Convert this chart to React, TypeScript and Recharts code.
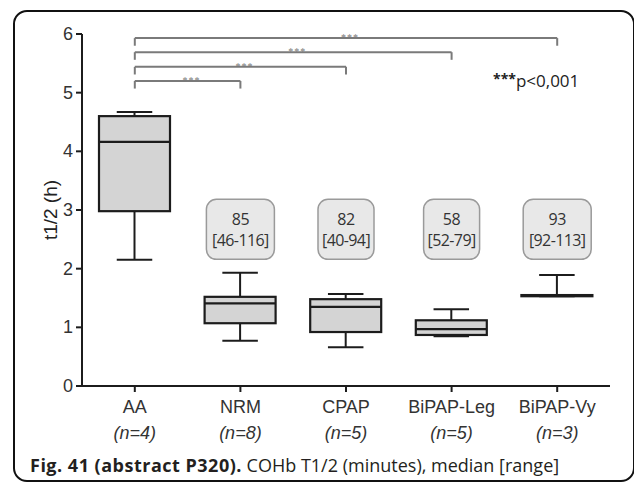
import {
  ComposedChart,
  Bar,
  XAxis,
  YAxis,
  ReferenceLine,
  ReferenceDot,
} from "recharts";

// groups and sample sizes
const groups = ["AA", "NRM", "CPAP", "BiPAP-Leg", "BiPAP-Vy"];
const counts = [4, 8, 5, 5, 3];

// box plot values, t1/2 in hours
const minVals = [2.15, 0.77, 0.66, 0.85, 1.53];
const q1Vals = [2.98, 1.07, 0.92, 0.87, 1.53];
const medianVals = [4.16, 1.41, 1.35, 0.97, 1.55];
const q3Vals = [4.6, 1.52, 1.48, 1.12, 1.55];
const maxVals = [4.67, 1.93, 1.57, 1.31, 1.89];

// annotation boxes: median [range] in minutes
const medianMinutes = [null, 85, 82, 58, 93];
const rangeMinutes = ["", "46-116", "40-94", "52-79", "92-113"];

// significance brackets from AA
const bracketTo = ["NRM", "CPAP", "BiPAP-Leg", "BiPAP-Vy"];
const bracketLevel = [5.2, 5.44, 5.69, 5.93];
const bracketDrop = 0.13;

const yTicks = [0, 1, 2, 3, 4, 5, 6];

const data = groups.map((name, i) => ({
  name,
  n: counts[i],
  min: minVals[i],
  q1: q1Vals[i],
  median: medianVals[i],
  q3: q3Vals[i],
  max: maxVals[i],
  range: [minVals[i], maxVals[i]],
}));

const ink = "#1c1c1c";

function BoxShape(props: any) {
  const { x, y, width, height, payload } = props;
  const { min, q1, median, q3, max } = payload;
  const py = (v: number) => y + (height * (max - v)) / (max - min);
  const cx = x + width / 2;
  const cap = width * 0.5;
  return (
    <g>
      <line x1={cx} x2={cx} y1={py(max)} y2={py(q3)} stroke={ink} strokeWidth={2} />
      <line x1={cx} x2={cx} y1={py(q1)} y2={py(min)} stroke={ink} strokeWidth={2} />
      <line x1={cx - cap / 2} x2={cx + cap / 2} y1={py(max)} y2={py(max)} stroke={ink} strokeWidth={2} />
      <line x1={cx - cap / 2} x2={cx + cap / 2} y1={py(min)} y2={py(min)} stroke={ink} strokeWidth={2} />
      <rect x={x} y={py(q3)} width={width} height={py(q1) - py(q3)} fill="#d4d4d4" stroke={ink} strokeWidth={2.2} />
      <line x1={x} x2={x + width} y1={py(median)} y2={py(median)} stroke={ink} strokeWidth={2.2} />
    </g>
  );
}

function XTick(props: any) {
  const { x, y, payload, index } = props;
  return (
    <g>
      <text x={x} y={y + 19} textAnchor="middle" fontSize={18} fill="#333" fontFamily="Liberation Sans, Arial">
        {payload.value}
      </text>
      <text x={x} y={y + 45} textAnchor="middle" fontSize={18} fontStyle="italic" fill="#333" fontFamily="Liberation Sans, Arial">
        (n={counts[index]})
      </text>
    </g>
  );
}

function YTick(props: any) {
  const { x, y, payload } = props;
  return (
    <text x={x} y={y} dy={6} textAnchor="end" fontSize={18} fill="#333" fontFamily="Liberation Sans, Arial">
      {payload.value}
    </text>
  );
}

function NoteBox(props: any, i: number) {
  const { cx, cy } = props;
  const w = rangeMinutes[i].length * 12 - 4;
  return (
    <g>
      <rect x={cx - w / 2} y={cy - 30} width={w} height={60} rx={10} fill="#e8e8e8" stroke="#9a9a9a" strokeWidth={1.5} />
      <text x={cx} y={cy - 4} textAnchor="middle" fontSize={16} letterSpacing={-0.4} fill="#333" fontFamily="Open Sans">
        {medianMinutes[i]}
      </text>
      <text x={cx} y={cy + 17} textAnchor="middle" fontSize={16} letterSpacing={-0.6} fill="#333" fontFamily="Open Sans">
        [{rangeMinutes[i]}]
      </text>
    </g>
  );
}

export default function App() {
  return (
    <div style={{ position: "absolute", left: 0, top: 0, width: 634, height: 484, background: "#fff", overflow: "hidden" }}>
      <div
        style={{
          position: "absolute",
          left: 13,
          top: 10,
          width: 622,
          height: 472,
          border: "2px solid #111",
          borderRadius: 14,
          boxSizing: "border-box",
        }}
      />
      <ComposedChart
        width={634}
        height={484}
        data={data}
        margin={{ top: 34, right: 24, bottom: 38, left: 0 }}
        style={{ position: "absolute", left: 0, top: 0 }}
      >
        <XAxis
          dataKey="name"
          height={60}
          axisLine={{ stroke: ink, strokeWidth: 2 }}
          tickLine={{ stroke: ink, strokeWidth: 2 }}
          tickSize={6}
          tickMargin={2}
          tick={<XTick />}
          interval={0}
        />
        <YAxis
          width={82}
          domain={[0, 6]}
          ticks={yTicks}
          allowDataOverflow
          axisLine={{ stroke: ink, strokeWidth: 2 }}
          tickLine={{ stroke: ink, strokeWidth: 2 }}
          tickSize={6}
          tickMargin={3}
          tick={<YTick />}
          label={(p: any) => {
            const vb = p.viewBox || { y: 34, height: 352 };
            const yc = vb.y + vb.height / 2;
            return (
              <text
                x={50}
                y={yc}
                transform={`rotate(-90 50 ${yc})`}
                textAnchor="middle"
                dominantBaseline="central"
                fontSize={19}
                fill="#222"
                fontFamily="Liberation Sans, Arial"
              >
                t1/2 (h)
              </text>
            );
          }}
        />
        <Bar dataKey="range" barSize={71} isAnimationActive={false} shape={<BoxShape />} />
        {bracketTo.map((to, i) => (
          <ReferenceLine
            key={"h" + to}
            segment={[
              { x: "AA", y: bracketLevel[i] },
              { x: to, y: bracketLevel[i] },
            ]}
            stroke="#7a7a7a"
            strokeWidth={2}
            label={{ value: "***", position: "top", offset: -3, dx: 4, fontSize: 10, fill: "#777", letterSpacing: 1 }}
          />
        ))}
        {bracketTo.map((to, i) => (
          <ReferenceLine
            key={"l" + to}
            segment={[
              { x: "AA", y: bracketLevel[i] },
              { x: "AA", y: bracketLevel[i] - bracketDrop },
            ]}
            stroke="#7a7a7a"
            strokeWidth={2}
          />
        ))}
        {bracketTo.map((to, i) => (
          <ReferenceLine
            key={"r" + to}
            segment={[
              { x: to, y: bracketLevel[i] },
              { x: to, y: bracketLevel[i] - bracketDrop },
            ]}
            stroke="#7a7a7a"
            strokeWidth={2}
          />
        ))}
        {groups.map((g, i) =>
          medianMinutes[i] == null ? null : (
            <ReferenceDot key={"n" + g} x={g} y={2.67} r={0} shape={(p: any) => NoteBox(p, i)} />
          )
        )}
      </ComposedChart>
      <div
        style={{
          position: "absolute",
          left: 493,
          top: 69,
          fontFamily: "Open Sans",
          fontSize: 17,
          color: "#222",
          whiteSpace: "nowrap",
        }}
      >
        <span style={{ fontWeight: 700, fontSize: 14, position: "relative", top: -3 }}>***</span>p&lt;0,001
      </div>
      <div
        style={{
          position: "absolute",
          left: 30,
          top: 453,
          fontFamily: "Open Sans",
          fontSize: 18,
          color: "#231f20",
          whiteSpace: "nowrap",
        }}
      >
        <b style={{ letterSpacing: 0.5 }}>Fig. 41 (abstract P320).</b> COHb T1/2 (minutes), median [range]
      </div>
    </div>
  );
}
